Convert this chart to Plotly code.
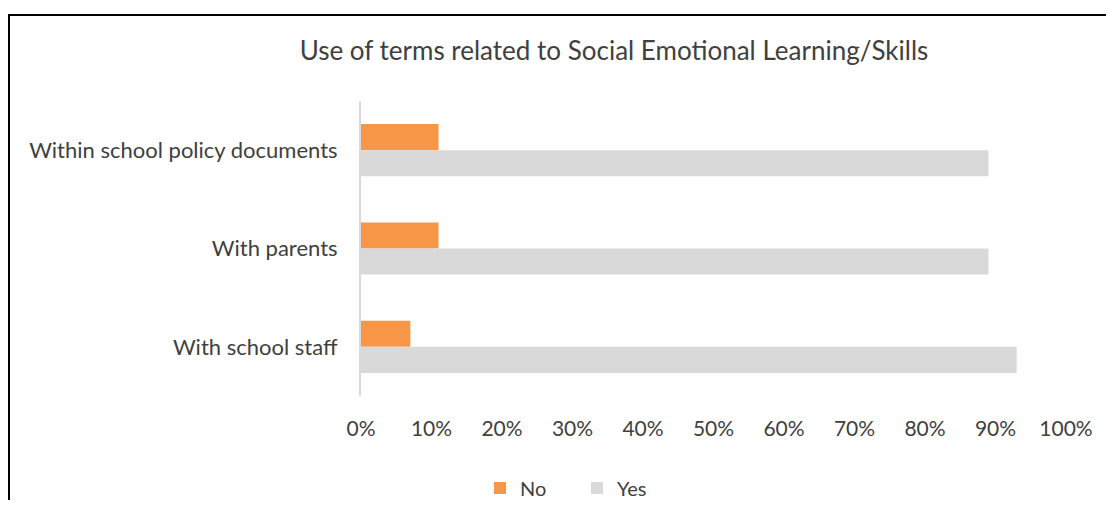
import plotly.graph_objects as go

categories = ["Within school policy documents", "With parents", "With school staff"]
no_values = [0.11, 0.11, 0.07]
yes_values = [0.89, 0.89, 0.93]
tick_vals = [0, 0.1, 0.2, 0.3, 0.4, 0.5, 0.6, 0.7, 0.8, 0.9, 1.0]
tick_text = ["0%", "10%", "20%", "30%", "40%", "50%", "60%", "70%", "80%", "90%", "100%"]

FONT = "Lato"
TXT = "#404040"
W, H = 1106, 492
OFF = 8
L, T, PW, PH = 361 - OFF, 101 - OFF, 705, 295

fig = go.Figure()
fig.add_trace(go.Bar(name="No", y=categories, x=no_values, orientation="h",
                     marker=dict(color="#F79646", line=dict(width=0))))
fig.add_trace(go.Bar(name="Yes", y=categories, x=yes_values, orientation="h",
                     marker=dict(color="#D9D9D9", line=dict(width=0))))

def px(x):
    return (x - OFF - L) / PW

def py(y):
    return (T + PH - (y - OFF)) / PH

fig.update_layout(
    width=W, height=H,
    margin=dict(l=L, r=W - L - PW, t=T, b=H - T - PH, autoexpand=False),
    paper_bgcolor="white", plot_bgcolor="white",
    barmode="group", bargap=0.47, bargroupgap=0,
    font=dict(family=FONT, size=21, color=TXT),
    title=dict(text="Use of terms related to Social Emotional Learning/Skills",
               x=(614 - OFF) / W, xref="container", xanchor="center",
               y=1 - (51 - OFF) / H, yref="container", yanchor="middle",
               font=dict(family=FONT, size=26, color=TXT)),
    xaxis=dict(range=[0, 1], tickvals=tick_vals, ticktext=tick_text,
               showgrid=False, zeroline=False, showline=False,
               ticks="", ticklabelstandoff=18,
               tickfont=dict(family=FONT, size=21, color=TXT)),
    yaxis=dict(autorange="reversed", showgrid=False, zeroline=False,
               showline=True, linecolor="#D9D9D9", linewidth=2,
               ticks="", ticklabelstandoff=17,
               tickfont=dict(family=FONT, size=22, color=TXT)),
    legend=dict(orientation="h", x=px(480), xanchor="left",
                y=py(488), yanchor="middle",
                font=dict(family=FONT, size=20, color=TXT),
                itemwidth=30, entrywidth=52, entrywidthmode="pixels",
                traceorder="normal"),
    shapes=[dict(type="rect", xref="paper", yref="paper",
                 x0=px(9), x1=px(1130),
                 y0=py(530), y1=py(15),
                 line=dict(color="black", width=2), fillcolor="rgba(0,0,0,0)",
                 layer="below")],
)

fig.write_html("out.html")
